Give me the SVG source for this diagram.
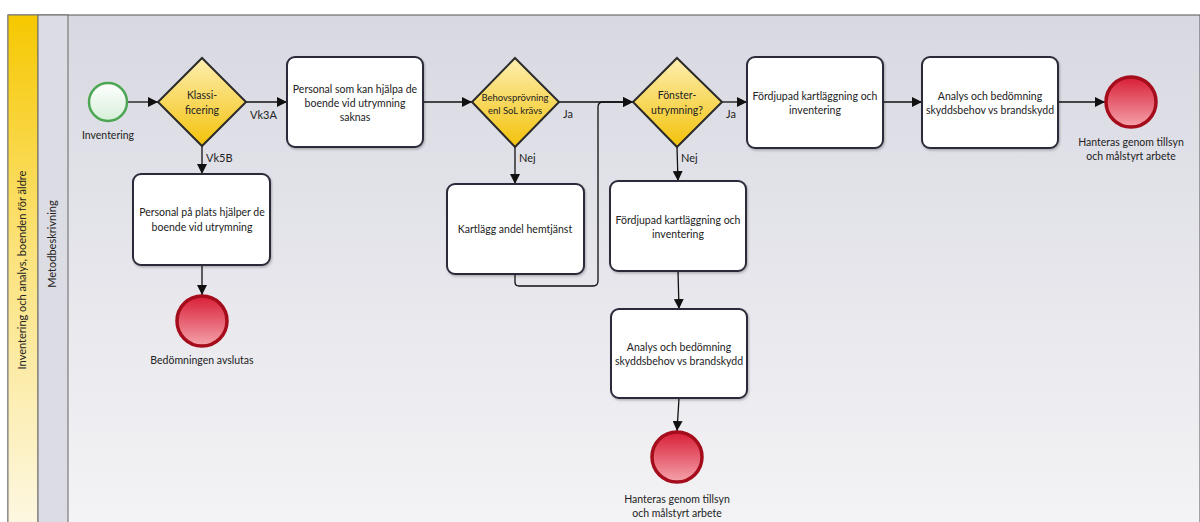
<svg xmlns="http://www.w3.org/2000/svg" width="1200" height="522" viewBox="0 0 1200 522">
<defs>
<linearGradient id="bg" x1="0" y1="0" x2="0" y2="1"><stop offset="0" stop-color="#d8d8e2"/><stop offset="1" stop-color="#f4f4f6"/></linearGradient>
<linearGradient id="yel" x1="0" y1="0" x2="0" y2="1"><stop offset="0" stop-color="#f6c800"/><stop offset="0.45" stop-color="#fbe27a"/><stop offset="1" stop-color="#fdf8e6"/></linearGradient>
<linearGradient id="gw" x1="0" y1="0" x2="0" y2="1"><stop offset="0" stop-color="#fdeeb0"/><stop offset="1" stop-color="#f3c20a"/></linearGradient>
<linearGradient id="st" x1="0" y1="0" x2="0" y2="1"><stop offset="0" stop-color="#ffffff"/><stop offset="1" stop-color="#d6efd8"/></linearGradient>
<linearGradient id="en" x1="0" y1="0" x2="0" y2="1"><stop offset="0" stop-color="#d81e36"/><stop offset="1" stop-color="#f5a3ab"/></linearGradient>
<marker id="ah" viewBox="0 0 10 10" refX="10" refY="5" markerWidth="10" markerHeight="10" markerUnits="userSpaceOnUse" orient="auto"><path d="M0,0 L10,5 L0,10 z" fill="#111"/></marker>
<filter id="sh" x="-10%" y="-10%" width="130%" height="130%"><feDropShadow dx="1" dy="1.5" stdDeviation="1.2" flood-color="#000" flood-opacity="0.25"/></filter>
</defs>
<style>
.t{font-family:Lato,"Liberation Sans",sans-serif;font-size:10.5px;fill:#222;text-anchor:middle}
.l{font-family:Lato,"Liberation Sans",sans-serif;font-size:11px;fill:#222}
.box{fill:#fff;stroke:#2a2a3a;stroke-width:2;filter:url(#sh)}
.gw{fill:url(#gw);stroke:#2a2a2a;stroke-width:2}
.end{fill:url(#en);stroke:#a50d1c;stroke-width:3.5}
.c{fill:none;stroke:#111;stroke-width:1.3;marker-end:url(#ah)}
</style>
<rect x="0" y="0" width="1200" height="522" fill="#fff"/>
<g id="pool">
<rect x="8" y="15" width="1192" height="520" fill="url(#bg)" stroke="#555" stroke-width="1"/>
<rect x="8" y="15" width="30" height="520" fill="url(#yel)" stroke="#777" stroke-width="1"/>
<rect x="38" y="15" width="30" height="520" fill="#dcdce4" stroke="#666" stroke-width="1"/>
<text class="t" style="font-size:11px" transform="translate(26,270) rotate(-90)">Inventering och analys, boenden för äldre</text>
<text class="t" style="font-size:11px" transform="translate(56,244) rotate(-90)">Metodbeskrivning</text>
</g>
<g id="connectors">
<line class="c" x1="128" y1="102" x2="158" y2="102"/>
<line class="c" x1="246" y1="102" x2="287" y2="102"/>
<line class="c" x1="202" y1="146" x2="202" y2="174"/>
<line class="c" x1="202" y1="265" x2="202" y2="295"/>
<line class="c" x1="423" y1="102" x2="472" y2="102"/>
<line class="c" x1="559" y1="102" x2="633" y2="102"/>
<line class="c" x1="515" y1="147" x2="515" y2="184"/>
<path class="c" d="M515,274 V282 Q515,286 519,286 H593 Q598,286 598,281 V107 Q598,102 603,102 H633"/>
<line class="c" x1="677" y1="147" x2="678" y2="181"/>
<line class="c" x1="722" y1="102" x2="747" y2="102"/>
<line class="c" x1="883" y1="102" x2="922" y2="102"/>
<line class="c" x1="1058" y1="102" x2="1105" y2="102"/>
<line class="c" x1="678" y1="271" x2="679" y2="309"/>
<line class="c" x1="679" y1="398" x2="677" y2="431"/>
<text class="l" x="250" y="119">Vk3A</text>
<text class="l" x="206" y="162">Vk5B</text>
<text class="l" x="563" y="118">Ja</text>
<text class="l" x="519" y="162">Nej</text>
<text class="l" x="726" y="118">Ja</text>
<text class="l" x="681" y="162">Nej</text>
</g>
<g id="start">
<circle cx="108" cy="102" r="19" fill="url(#st)" stroke="#4da653" stroke-width="2.5"/>
<text class="t" x="108" y="139">Inventering</text>
</g>
<g id="gw-klass">
<polygon class="gw" points="202,58 246,102 202,146 158,102"/>
<text class="t" x="202" y="99">Klassi-</text>
<text class="t" x="202" y="114">ficering</text>
</g>
<g id="task-saknas">
<rect class="box" x="287" y="57" width="136" height="90" rx="8"/>
<text class="t" x="355" y="93">Personal som kan hjälpa de</text>
<text class="t" x="355" y="107">boende vid utrymning</text>
<text class="t" x="355" y="121">saknas</text>
</g>
<g id="task-plats">
<rect class="box" x="133" y="174" width="137" height="91" rx="8"/>
<text class="t" x="202" y="216">Personal på plats hjälper de</text>
<text class="t" x="202" y="231">boende vid utrymning</text>
</g>
<g id="end-avslutas">
<circle class="end" cx="202" cy="321" r="25"/>
<text class="t" x="202" y="364">Bedömningen avslutas</text>
</g>
<g id="gw-behov">
<polygon class="gw" points="515,58 559,102 515,147 472,102"/>
<text class="t" x="515" y="101" style="font-size:9.5px">Behovsprövning</text>
<text class="t" x="515" y="114" style="font-size:9.5px">enl SoL krävs</text>
</g>
<g id="task-kartlagg">
<rect class="box" x="447" y="184" width="137" height="90" rx="8"/>
<text class="t" x="515" y="233">Kartlägg andel hemtjänst</text>
</g>
<g id="gw-fonster">
<polygon class="gw" points="677,58 722,102 677,147 633,102"/>
<text class="t" x="677" y="99">Fönster-</text>
<text class="t" x="677" y="114">utrymning?</text>
</g>
<g id="task-fordjupad1">
<rect class="box" x="747" y="57" width="136" height="91" rx="8"/>
<text class="t" x="815" y="100">Fördjupad kartläggning och</text>
<text class="t" x="815" y="114">inventering</text>
</g>
<g id="task-analys1">
<rect class="box" x="922" y="57" width="136" height="91" rx="8"/>
<text class="t" x="990" y="100">Analys och bedömning</text>
<text class="t" x="990" y="114">skyddsbehov vs brandskydd</text>
</g>
<g id="end-tillsyn1">
<circle class="end" cx="1131" cy="102" r="25"/>
<text class="t" x="1131" y="146">Hanteras genom tillsyn</text>
<text class="t" x="1131" y="160">och målstyrt arbete</text>
</g>
<g id="task-fordjupad2">
<rect class="box" x="610" y="181" width="136" height="90" rx="8"/>
<text class="t" x="678" y="224">Fördjupad kartläggning och</text>
<text class="t" x="678" y="238">inventering</text>
</g>
<g id="task-analys2">
<rect class="box" x="611" y="309" width="136" height="89" rx="8"/>
<text class="t" x="679" y="351">Analys och bedömning</text>
<text class="t" x="679" y="365">skyddsbehov vs brandskydd</text>
</g>
<g id="end-tillsyn2">
<circle class="end" cx="677" cy="457" r="25"/>
<text class="t" x="677" y="503">Hanteras genom tillsyn</text>
<text class="t" x="677" y="517">och målstyrt arbete</text>
</g>
</svg>
